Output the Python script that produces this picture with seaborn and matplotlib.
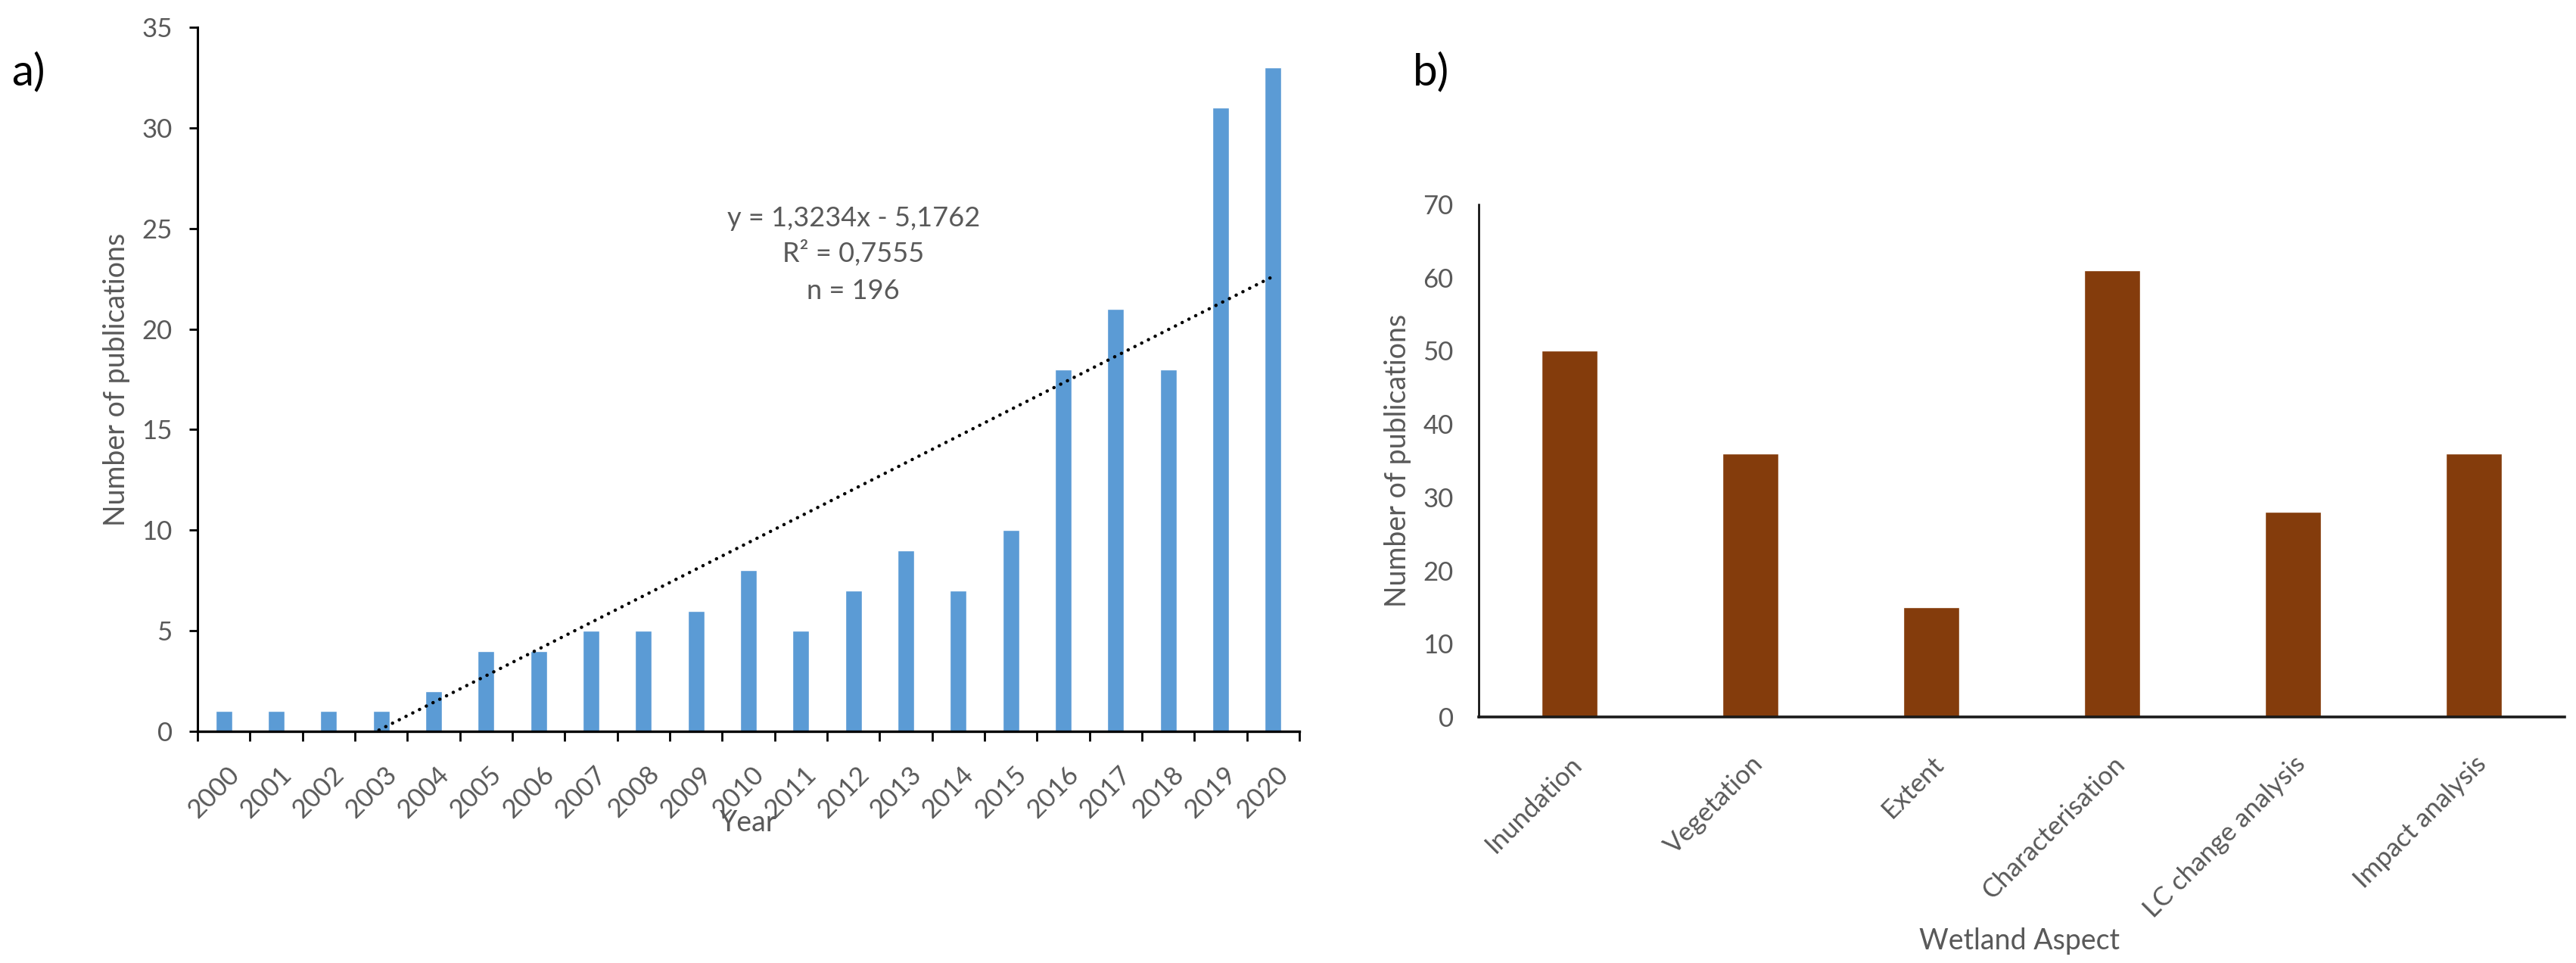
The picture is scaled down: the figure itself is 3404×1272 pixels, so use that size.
import numpy as np
import pandas as pd
import matplotlib
matplotlib.use("Agg")
import matplotlib.pyplot as plt
from matplotlib.ticker import FixedLocator, MultipleLocator
from matplotlib.transforms import ScaledTranslation
import seaborn as sns

# ---------------- data ----------------
years = [str(y) for y in range(2000, 2021)]
publications = [1, 1, 1, 1, 2, 4, 4, 5, 5, 6, 8, 5, 7, 9, 7, 10, 18, 21, 18, 31, 33]

aspects = ["Inundation", "Vegetation", "Extent", "Characterisation",
           "LC change analysis", "Impact analysis"]
aspect_counts = [50, 36, 15, 61, 28, 36]

eq_lines = ["y = 1,3234x - 5,1762", "R\u00b2 = 0,7555", "n = 196"]

# ---------------- style ----------------
sns.set_style("white")
plt.rcParams["font.family"] = ["Lato", "DejaVu Sans"]
GREY = "#595959"
BLUE = "#5B9BD5"
BROWN = "#843C0C"

fig = plt.figure(figsize=(34.05, 12.72), dpi=100)
ax_a = fig.add_axes([0.07665, 0.24057, 0.42761, 0.73113])
ax_b = fig.add_axes([0.57386, 0.25550, 0.42144, 0.53223])

# ---------------- panel a ----------------
df_a = pd.DataFrame({"Year": years, "Publications": publications})
sns.barplot(data=df_a, x="Year", y="Publications", color=BLUE, width=0.32,
            saturation=1, ax=ax_a)
sns.regplot(x=np.arange(len(years)), y=np.array(publications, dtype=float),
            scatter=False, ci=None, truncate=True, ax=ax_a,
            line_kws=dict(color="black", lw=3.2, ls=(0, (0.05, 2.2)),
                          dash_capstyle="round"))
ax_a.set_xlim(-0.5, len(years) - 0.5)
ax_a.set_ylim(0, 35)
ax_a.yaxis.set_major_locator(MultipleLocator(5))
ax_a.set_xticks(range(len(years)))
ax_a.set_xticklabels(years)
ax_a.xaxis.set_minor_locator(FixedLocator(np.arange(-0.5, len(years), 1.0)))
ax_a.tick_params(axis="x", which="major", length=0, pad=29,
                 labelsize=25, labelcolor=GREY)
ax_a.tick_params(axis="x", which="minor", length=9.5, width=2, color="black",
                 direction="out", bottom=True)
ax_a.tick_params(axis="y", which="major", length=8, width=2, color="black",
                 direction="out", left=True, pad=16, labelsize=25,
                 labelcolor=GREY)
for lab in ax_a.get_xticklabels():
    lab.set_rotation(45)
    lab.set_ha("right")
    lab.set_va("top")
    lab.set_rotation_mode("anchor")
    lab.set_transform(lab.get_transform() +
                      ScaledTranslation(4 / 100, 0, fig.dpi_scale_trans))
for side in ["top", "right"]:
    ax_a.spines[side].set_visible(False)
ax_a.spines["left"].set_color("black")
ax_a.spines["left"].set_linewidth(2.2)
ax_a.spines["bottom"].set_color("black")
ax_a.spines["bottom"].set_linewidth(2.4)
ax_a.set_xlabel("Year", fontsize=27, color=GREY)
ax_a.set_ylabel("Number of publications", fontsize=27, color=GREY)
ax_a.xaxis.set_label_coords(0.5, -0.130)
ax_a.xaxis.label.set_va("center")
ax_a.yaxis.set_label_coords(-0.0735, 0.5)
ax_a.yaxis.label.set_va("center")
for txt, yv in zip(eq_lines, [25.5, 23.75, 21.9]):
    ax_a.text(12, yv, txt, ha="center", va="center", fontsize=26, color=GREY)

# ---------------- panel b ----------------
df_b = pd.DataFrame({"Aspect": aspects, "Count": aspect_counts})
sns.barplot(data=df_b, x="Aspect", y="Count", color=BROWN, width=0.31,
            saturation=1, ax=ax_b)
ax_b.set_xlim(-0.5, len(aspects) - 0.5)
ax_b.set_ylim(0, 70)
ax_b.yaxis.set_major_locator(MultipleLocator(10))
ax_b.tick_params(axis="x", length=0, pad=33, labelsize=25, labelcolor=GREY)
ax_b.tick_params(axis="y", length=0, pad=24, labelsize=25, labelcolor=GREY)
for lab in ax_b.get_xticklabels():
    lab.set_rotation(45)
    lab.set_ha("right")
    lab.set_va("top")
    lab.set_rotation_mode("anchor")
for side in ["top", "right"]:
    ax_b.spines[side].set_visible(False)
ax_b.spines["left"].set_color("black")
ax_b.spines["left"].set_linewidth(1.8)
ax_b.spines["bottom"].set_color("#1a1a1a")
ax_b.spines["bottom"].set_linewidth(2.6)
ax_b.set_xlabel("Wetland Aspect", fontsize=27, color=GREY)
ax_b.set_ylabel("Number of publications", fontsize=27, color=GREY)
ax_b.xaxis.set_label_coords(0.498, -0.437)
ax_b.xaxis.label.set_va("center")
ax_b.yaxis.set_label_coords(-0.0746, 0.5)
ax_b.yaxis.label.set_va("center")

# panel letters
fig.text(0.0044, 0.925, "a)", fontsize=42, color="black", ha="left", va="center")
fig.text(0.5483, 0.925, "b)", fontsize=42, color="black", ha="left", va="center")

fig.savefig("out.png", dpi=100, facecolor="white")
